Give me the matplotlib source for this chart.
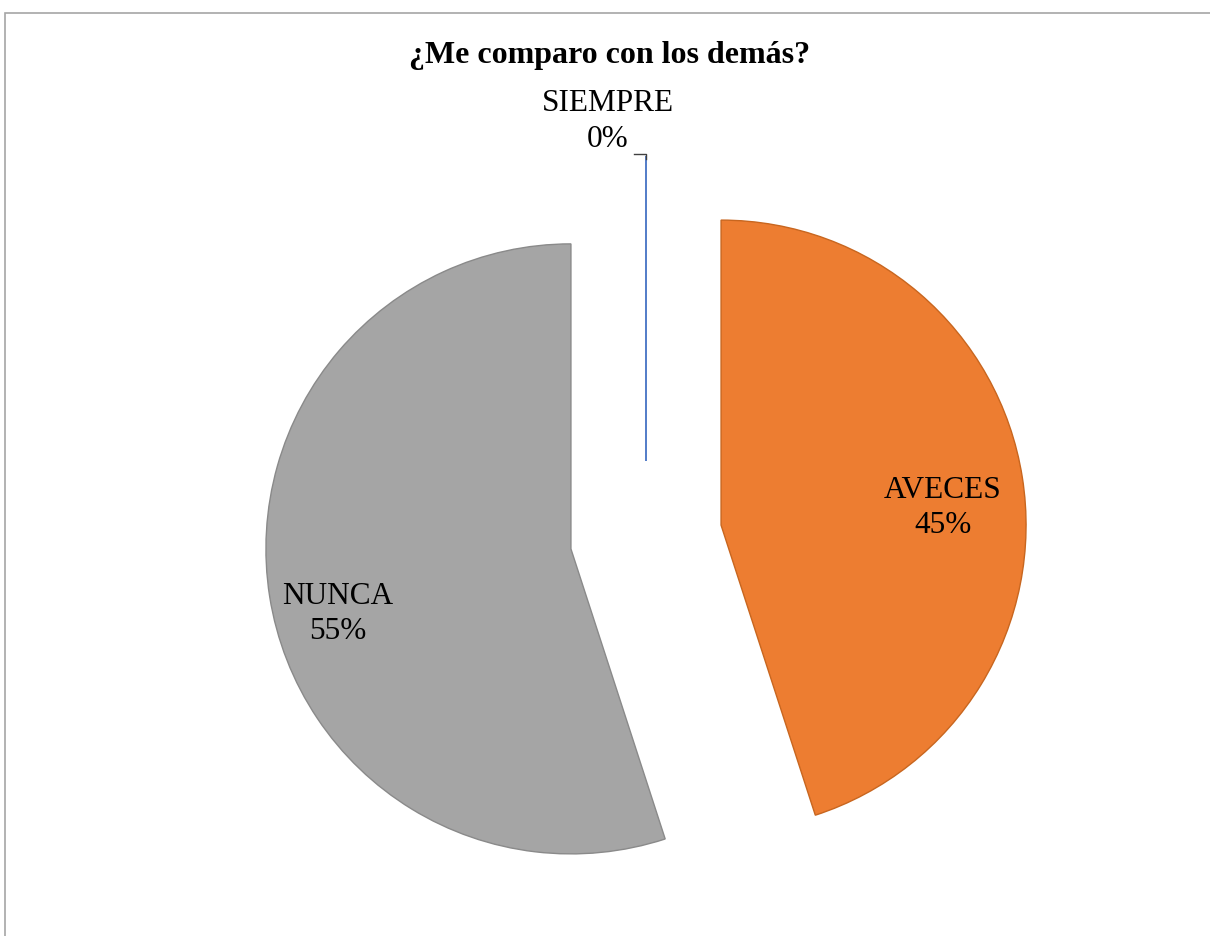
import numpy as np
import matplotlib
matplotlib.use("Agg")
from matplotlib import pyplot as plt
from matplotlib.patches import Rectangle

# Survey answers
categories = ["SIEMPRE", "AVECES", "NUNCA"]
percent = [0, 45, 55]
title = "¿Me comparo con los demás?"

fill_colors = ["#4472C4", "#ED7D31", "#A5A5A5"]
edge_colors = ["#4472C4", "#C8661F", "#8A8A8A"]

W, H = 1210, 936
fig = plt.figure(figsize=(W / 100, H / 100), dpi=100)
ax = fig.add_axes([0, 0, 1, 1])

# pixel-like data coords, y up
cx, cy = 646, H - 537
R = 305
explode_px = 76

wedges, _ = ax.pie(
    percent,
    colors=fill_colors,
    startangle=90,
    counterclock=False,
    center=(cx, cy),
    radius=R,
    explode=[explode_px] * len(percent),
    wedgeprops=dict(linewidth=1.0),
)
for w, ec in zip(wedges, edge_colors):
    w.set_edgecolor(ec)
wedges[0].set_linewidth(1.3)

ax.set_xlim(0, W)
ax.set_ylim(0, H)
ax.set_aspect("equal")
ax.axis("off")

serif = ["Liberation Serif", "DejaVu Serif"]
lab_fs = 22.5

# label offsets from each wedge's tip (px): (dx, dy)
offsets = {"AVECES": (222, 17), "NUNCA": (-233, -65)}
for w, name, p in zip(wedges, categories, percent):
    txt = f"{name}\n{p}%"
    if name in offsets:
        dx, dy = offsets[name]
        ax.text(w.center[0] + dx, w.center[1] + dy, txt, ha="center", va="center",
                fontsize=lab_fs, family=serif, linespacing=1.3, color="#000000")
    else:
        # zero slice: label above with a small leader line
        tip_x = w.center[0]
        tip_y = w.center[1] + w.r
        ax.text(tip_x - 38, tip_y + 2, txt, ha="center", va="bottom",
                fontsize=lab_fs, family=serif, linespacing=1.3, color="#000000")
        ax.plot([tip_x - 12, tip_x, tip_x], [tip_y + 2, tip_y + 2, tip_y - 3],
                color="#404040", lw=1.0)

fig.text(610 / W, 1 - 56 / H, title, ha="center", va="center",
         fontsize=23, fontweight="bold", family=serif)

# chart area border
fig.patches.append(Rectangle((4.5 / W, -0.01), 1.02, 1 - 12.5 / H + 0.01,
                             transform=fig.transFigure, fill=False,
                             edgecolor="#A6A6A6", lw=1.2))

fig.savefig("out.png", dpi=100, facecolor="white")
